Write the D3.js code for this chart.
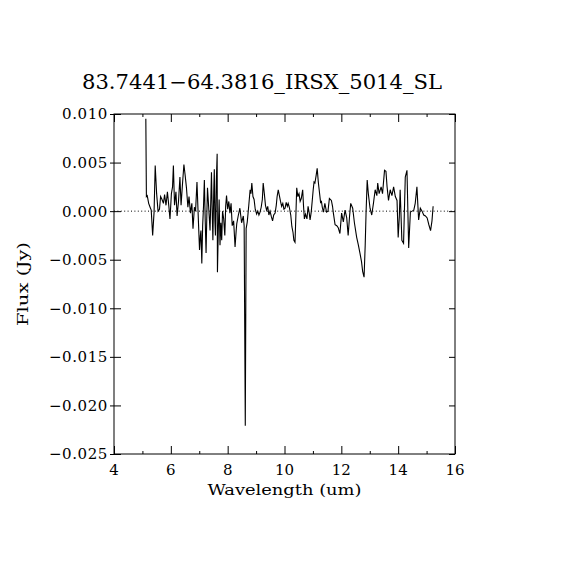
<!DOCTYPE html>
<html>
<head>
<meta charset="utf-8">
<script src="https://cdn.jsdelivr.net/npm/d3@7"></script>
<style>
  body { margin: 0; background: #fff; }
  text { font-family: "DejaVu Serif", "Liberation Serif", serif; fill: #000; }
</style>
</head>
<body>
<div id="chart"></div>
<script>
var svgWidth = 570;
var svgHeight = 570;

var margin = { top: 114, right: 115, bottom: 116, left: 114 };
var width = svgWidth - margin.left - margin.right;
var height = svgHeight - margin.top - margin.bottom;

var titleText = "83.7441\u221264.3816_IRSX_5014_SL";
var xLabel = "Wavelength (um)";
var yLabel = "Flux (Jy)";

var xTicks = [4, 6, 8, 10, 12, 14, 16];
var xMinorTicks = [5, 7, 9, 11, 13, 15];
var yTicks = [0.010, 0.005, 0.000, -0.005, -0.010, -0.015, -0.020, -0.025];

// spectrum
var wavelength = [
  5.12, 5.14, 5.17, 5.22, 5.27, 5.31, 5.36, 5.41, 5.45, 5.50,
  5.55, 5.60, 5.64, 5.69, 5.74, 5.78, 5.83, 5.88, 5.93, 5.97,
  6.02, 6.06, 6.09, 6.13, 6.18, 6.22, 6.27, 6.32, 6.36, 6.41,
  6.46, 6.50, 6.55, 6.60, 6.64, 6.69, 6.74, 6.78, 6.83, 6.87,
  6.92, 6.97, 7.01, 7.04, 7.06, 7.09, 7.12, 7.15, 7.18, 7.21,
  7.24, 7.27, 7.29, 7.32, 7.35, 7.38, 7.41, 7.43, 7.46, 7.48,
  7.51, 7.53, 7.55, 7.57, 7.60, 7.63, 7.64, 7.67, 7.70, 7.73,
  7.76, 7.79, 7.82, 7.86, 7.90, 7.93, 7.96, 8.00, 8.04, 8.08,
  8.12, 8.16, 8.21, 8.26, 8.30, 8.32, 8.37, 8.43, 8.49, 8.55,
  8.58, 8.62, 8.65, 8.69, 8.74, 8.79, 8.82, 8.85, 8.89, 8.93,
  8.97, 9.02, 9.06, 9.10, 9.14, 9.18, 9.22, 9.25, 9.29, 9.33,
  9.37, 9.41, 9.45, 9.49, 9.54, 9.58, 9.62, 9.67, 9.71, 9.74,
  9.78, 9.82, 9.86, 9.90, 9.94, 9.98, 10.02, 10.06, 10.10, 10.13,
  10.17, 10.22, 10.26, 10.30, 10.33, 10.37, 10.40, 10.43, 10.47, 10.51,
  10.55, 10.59, 10.64, 10.67, 10.70, 10.74, 10.79, 10.83, 10.87, 10.90,
  10.94, 10.98, 11.01, 11.04, 11.07, 11.11, 11.15, 11.19, 11.22, 11.27,
  11.30, 11.33, 11.37, 11.42, 11.48, 11.53, 11.58, 11.65, 11.69, 11.72,
  11.78, 11.84, 11.89, 11.95, 12.01, 12.07, 12.13, 12.19, 12.24, 12.29,
  12.33, 12.40, 12.46, 12.54, 12.60, 12.66, 12.71, 12.75, 12.80, 12.84,
  12.87, 12.91, 12.95, 13.01, 13.07, 13.13, 13.19, 13.25, 13.28, 13.33,
  13.40, 13.45, 13.52, 13.57, 13.61, 13.66, 13.72, 13.78, 13.84, 13.90,
  13.96, 14.00, 14.04, 14.07, 14.13, 14.19, 14.25, 14.31, 14.37, 14.43,
  14.49, 14.55, 14.60, 14.66, 14.72, 14.78, 14.84, 14.90, 14.96, 15.02,
  15.08, 15.14, 15.19, 15.23
];
var flux = [
  0.0095, 0.0015, 0.0016, 0.0008, 0.0004, 0.0001, -0.0025, -0.0001, 0.0047, 0.0018,
  0.0000, 0.0002, 0.0015, 0.0012, 0.0008, 0.0017, 0.0006, 0.0020, 0.0005, -0.0008,
  0.0018, 0.0025, 0.0047, 0.0006, 0.0020, -0.0005, 0.0010, 0.0035, 0.0006, 0.0028,
  0.0048, 0.0038, 0.0024, 0.0004, 0.0015, -0.0002, 0.0008, -0.0018, 0.0004, 0.0000,
  0.0030, -0.0010, -0.0040, -0.0025, -0.0020, -0.0054, -0.0015, 0.0005, 0.0032, -0.0010,
  -0.0043, 0.0000, 0.0024, 0.0010, -0.0005, -0.0020, 0.0015, 0.0040, -0.0005, -0.0030,
  0.0020, 0.0043, -0.0010, -0.0025, 0.0030, 0.0059, -0.0063, -0.0020, 0.0012, -0.0035,
  -0.0012, -0.0030, 0.0000, -0.0008, -0.0025, 0.0005, 0.0016, 0.0002, 0.0010, -0.0002,
  0.0008, -0.0015, -0.0010, -0.0037, -0.0020, -0.0013, -0.0005, 0.0003, -0.0012, -0.0005,
  -0.0015, -0.0221, -0.0018, -0.0011, 0.0005, 0.0022, 0.0018, 0.0029, 0.0015, 0.0012,
  0.0002, -0.0003, 0.0000, -0.0004, -0.0001, 0.0004, 0.0012, 0.0029, 0.0018, 0.0006,
  0.0001, 0.0005, -0.0004, 0.0000, -0.0006, -0.0010, -0.0004, -0.0002, 0.0006, 0.0015,
  0.0022, 0.0016, 0.0010, 0.0005, 0.0008, 0.0002, 0.0003, 0.0009, 0.0005, 0.0008,
  0.0004, -0.0004, -0.0016, -0.0022, -0.0030, -0.0032, -0.0005, 0.0024, 0.0015, 0.0018,
  0.0010, 0.0013, 0.0022, 0.0005, -0.0008, -0.0003, -0.0008, 0.0005, -0.0002, -0.0009,
  -0.0001, 0.0012, 0.0022, 0.0030, 0.0029, 0.0036, 0.0044, 0.0030, 0.0022, 0.0009,
  0.0010, 0.0004, -0.0001, 0.0008, -0.0001, 0.0000, 0.0013, 0.0011, 0.0005, -0.0002,
  -0.0014, -0.0015, -0.0017, -0.0023, -0.0002, -0.0011, 0.0001, -0.0007, -0.0025, -0.0005,
  0.0008, 0.0003, -0.0012, -0.0027, -0.0035, -0.0044, -0.0052, -0.0062, -0.0068, -0.0035,
  -0.0002, 0.0032, 0.0018, 0.0003, -0.0004, 0.0008, 0.0022, 0.0016, 0.0029, 0.0018,
  0.0025, 0.0018, 0.0042, 0.0041, 0.0025, 0.0011, 0.0022, 0.0016, 0.0025, 0.0015,
  0.0011, -0.0027, -0.0006, 0.0022, -0.0030, -0.0033, 0.0035, 0.0042, -0.0038, -0.0001,
  0.0000, 0.0001, 0.0008, 0.0025, -0.0009, 0.0003, 0.0000, -0.0004, -0.0005, -0.0007,
  -0.0014, -0.0020, -0.0010, 0.0005
];

var svg = d3.select("#chart")
  .append("svg")
  .attr("width", svgWidth)
  .attr("height", svgHeight)
  .style("background", "#fff");

var chartGroup = svg.append("g")
  .attr("transform", `translate(${margin.left}, ${margin.top})`);

var xScale = d3.scaleLinear().domain([4, 16]).range([0, width]);
var yScale = d3.scaleLinear().domain([-0.025, 0.010]).range([height, 0]);

// ticks (inside the frame, like the original)
function tickAxis(axis, sel, size) {
  sel.call(axis.tickSize(size).tickFormat(""))
    .call(g => g.select(".domain").remove())
    .selectAll("line").attr("stroke", "#000");
}

chartGroup.append("g").attr("transform", `translate(0, ${height})`)
  .call(g => tickAxis(d3.axisTop(xScale).tickValues(xTicks), g, 8));
chartGroup.append("g").attr("transform", `translate(0, ${height})`)
  .call(g => tickAxis(d3.axisTop(xScale).tickValues(xMinorTicks), g, 3));
chartGroup.append("g")
  .call(g => tickAxis(d3.axisBottom(xScale).tickValues(xTicks), g, 8));
chartGroup.append("g")
  .call(g => tickAxis(d3.axisBottom(xScale).tickValues(xMinorTicks), g, 3));
chartGroup.append("g")
  .call(g => tickAxis(d3.axisRight(yScale).tickValues(yTicks), g, 7));
chartGroup.append("g").attr("transform", `translate(-4, 0)`)
  .call(g => tickAxis(d3.axisRight(yScale).tickValues(yTicks), g, 4));
chartGroup.append("g").attr("transform", `translate(${width}, 0)`)
  .call(g => tickAxis(d3.axisLeft(yScale).tickValues(yTicks), g, 6));

// tick labels
var fmt = d3.format(".3f");
chartGroup.append("g").selectAll("text").data(yTicks).enter()
  .append("text")
  .attr("x", -6)
  .attr("y", d => yScale(d))
  .attr("dy", "0.36em")
  .attr("text-anchor", "end")
  .attr("font-size", 15)
  .attr("letter-spacing", 0.6)
  .text(d => fmt(d).replace("-", "\u2212"));

chartGroup.append("g").selectAll("text").data(xTicks).enter()
  .append("text")
  .attr("x", d => xScale(d))
  .attr("y", height + 21)
  .attr("text-anchor", "middle")
  .attr("font-size", 15)
  .text(d => d);

// zero line
chartGroup.append("line")
  .attr("x1", 0).attr("x2", width)
  .attr("y1", yScale(0)).attr("y2", yScale(0))
  .attr("stroke", "#000")
  .attr("stroke-width", 1)
  .attr("stroke-dasharray", "1,2.4");

// spectrum
var line = d3.line()
  .x((d, i) => xScale(wavelength[i]))
  .y(d => yScale(d));

chartGroup.append("path")
  .datum(flux)
  .attr("d", line)
  .attr("fill", "none")
  .attr("stroke", "#000")
  .attr("stroke-width", 1.1);

// frame
chartGroup.append("rect")
  .attr("x", 0).attr("y", 0)
  .attr("width", width).attr("height", height)
  .attr("fill", "none")
  .attr("stroke", "#000")
  .attr("stroke-width", 1);

// labels
svg.append("text")
  .attr("x", 262)
  .attr("y", 89)
  .attr("text-anchor", "middle")
  .attr("font-size", 20)
  .attr("textLength", 360)
  .attr("lengthAdjust", "spacingAndGlyphs")
  .text(titleText);

svg.append("text")
  .attr("x", margin.left + width / 2)
  .attr("y", 495)
  .attr("text-anchor", "middle")
  .attr("font-size", 15)
  .attr("textLength", 154)
  .attr("lengthAdjust", "spacingAndGlyphs")
  .text(xLabel);

svg.append("text")
  .attr("transform", `translate(28, ${margin.top + height / 2}) rotate(-90)`)
  .attr("text-anchor", "middle")
  .attr("font-size", 15)
  .attr("textLength", 84)
  .attr("lengthAdjust", "spacingAndGlyphs")
  .text(yLabel);
</script>
</body>
</html>
